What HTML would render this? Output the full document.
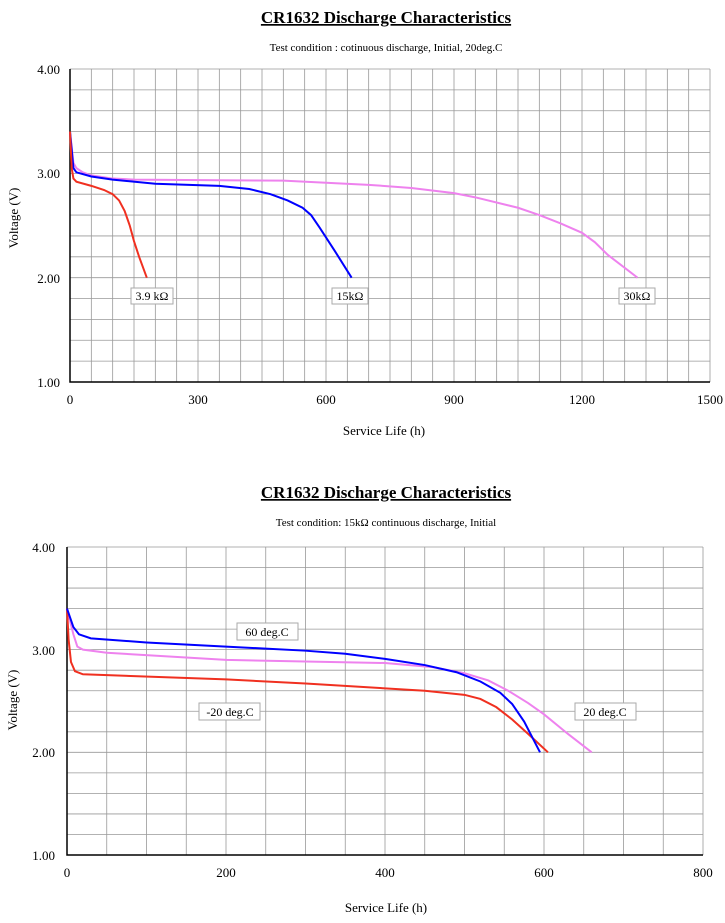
<!DOCTYPE html>
<html><head><meta charset="utf-8"><style>
body{margin:0;background:#fff;}
text{font-family:"Liberation Serif",serif;}
</style></head><body>
<svg width="725" height="918" xmlns="http://www.w3.org/2000/svg">
<rect width="725" height="918" fill="#fff"/>
<!-- Chart 1 -->
<text x="386" y="23" font-size="17" font-weight="bold" text-anchor="middle" text-decoration="underline">CR1632 Discharge Characteristics</text>
<text x="386" y="51" font-size="11" text-anchor="middle">Test condition : cotinuous discharge, Initial, 20deg.C</text>
<g transform="translate(70,382) scale(0.42667,-104.33) translate(0,-1)" fill="none">
<g stroke="#999" stroke-width="0.8">
<path vector-effect="non-scaling-stroke" d="M50 1V4M100 1V4M150 1V4M200 1V4M250 1V4M300 1V4M350 1V4M400 1V4M450 1V4M500 1V4M550 1V4M600 1V4M650 1V4M700 1V4M750 1V4M800 1V4M850 1V4M900 1V4M950 1V4M1000 1V4M1050 1V4M1100 1V4M1150 1V4M1200 1V4M1250 1V4M1300 1V4M1350 1V4M1400 1V4M1450 1V4M1500 1V4"/>
<path vector-effect="non-scaling-stroke" d="M0 1.2H1500M0 1.4H1500M0 1.6H1500M0 1.8H1500M0 2H1500M0 2.2H1500M0 2.4H1500M0 2.6H1500M0 2.8H1500M0 3H1500M0 3.2H1500M0 3.4H1500M0 3.6H1500M0 3.8H1500M0 4H1500"/>
</g>
<path vector-effect="non-scaling-stroke" stroke="#000" stroke-width="1.5" d="M0 4V1H1500"/>
<path vector-effect="non-scaling-stroke" stroke="#ee82ee" stroke-width="2" d="M0 3.4L8 3.1L15 3.05L30 3.01L50 2.98L100 2.95L150 2.94L500 2.93L700 2.89L800 2.86L900 2.81L950 2.77L1050 2.67L1100 2.6L1150 2.52L1200 2.43L1230 2.34L1260 2.22L1330 2.0"/>
<path vector-effect="non-scaling-stroke" stroke="#0000ff" stroke-width="2" d="M0 3.4L8 3.05L15 3.01L50 2.97L100 2.94L200 2.9L350 2.88L420 2.85L470 2.8L510 2.74L545 2.67L565 2.6L585 2.48L620 2.26L660 2.0"/>
<path vector-effect="non-scaling-stroke" stroke="#f03020" stroke-width="2" d="M0 3.4L4 3.05L8 2.95L15 2.92L50 2.88L80 2.84L100 2.8L115 2.74L128 2.64L140 2.5L150 2.35L162 2.2L180 2.0"/>
</g>
<g font-size="13" text-anchor="end"><text x="60" y="74">4.00</text><text x="60" y="178">3.00</text><text x="60" y="283">2.00</text><text x="60" y="387">1.00</text></g>
<g font-size="13" text-anchor="middle"><text x="70" y="404">0</text><text x="198" y="404">300</text><text x="326" y="404">600</text><text x="454" y="404">900</text><text x="582" y="404">1200</text><text x="710" y="404">1500</text></g>
<text x="384" y="435" font-size="13" text-anchor="middle">Service Life (h)</text>
<text transform="translate(18,218) rotate(-90)" font-size="13" text-anchor="middle">Voltage (V)</text>
<g font-size="12" text-anchor="middle">
<rect x="131" y="288" width="42" height="16" fill="#fff" stroke="#aaa"/><text x="152" y="300">3.9 kΩ</text>
<rect x="332" y="288" width="36" height="16" fill="#fff" stroke="#aaa"/><text x="350" y="300">15kΩ</text>
<rect x="619" y="288" width="36" height="16" fill="#fff" stroke="#aaa"/><text x="637" y="300">30kΩ</text>
</g>
<!-- Chart 2 -->
<text x="386" y="498" font-size="17" font-weight="bold" text-anchor="middle" text-decoration="underline">CR1632 Discharge Characteristics</text>
<text x="386" y="526" font-size="11" text-anchor="middle">Test condition: 15kΩ continuous discharge, Initial</text>
<g transform="translate(67,855) scale(0.795,-102.67) translate(0,-1)" fill="none">
<g stroke="#999" stroke-width="0.8">
<path vector-effect="non-scaling-stroke" d="M50 1V4M100 1V4M150 1V4M200 1V4M250 1V4M300 1V4M350 1V4M400 1V4M450 1V4M500 1V4M550 1V4M600 1V4M650 1V4M700 1V4M750 1V4M800 1V4"/>
<path vector-effect="non-scaling-stroke" d="M0 1.2H800M0 1.4H800M0 1.6H800M0 1.8H800M0 2H800M0 2.2H800M0 2.4H800M0 2.6H800M0 2.8H800M0 3H800M0 3.2H800M0 3.4H800M0 3.6H800M0 3.8H800M0 4H800"/>
</g>
<path vector-effect="non-scaling-stroke" stroke="#000" stroke-width="1.5" d="M0 4V1H800"/>
<path vector-effect="non-scaling-stroke" stroke="#ee82ee" stroke-width="2" d="M0 3.4L8 3.15L13 3.03L20 3.0L50 2.97L200 2.9L400 2.87L460 2.83L500 2.77L530 2.7L555 2.6L580 2.48L600 2.37L630 2.18L660 2.0"/>
<path vector-effect="non-scaling-stroke" stroke="#f03020" stroke-width="2" d="M0 3.4L2 3.1L5 2.88L10 2.79L20 2.76L200 2.71L300 2.67L450 2.6L500 2.56L520 2.52L540 2.44L560 2.32L580 2.18L605 2.0"/>
<path vector-effect="non-scaling-stroke" stroke="#0000ff" stroke-width="2" d="M0 3.4L8 3.22L15 3.15L30 3.11L100 3.07L200 3.03L300 2.99L350 2.96L400 2.91L450 2.85L490 2.78L520 2.69L545 2.58L560 2.47L575 2.3L585 2.15L595 2.0"/>
</g>
<g font-size="13" text-anchor="end"><text x="55" y="552">4.00</text><text x="55" y="655">3.00</text><text x="55" y="757">2.00</text><text x="55" y="860">1.00</text></g>
<g font-size="13" text-anchor="middle"><text x="67" y="877">0</text><text x="226" y="877">200</text><text x="385" y="877">400</text><text x="544" y="877">600</text><text x="703" y="877">800</text></g>
<text x="386" y="912" font-size="13" text-anchor="middle">Service Life (h)</text>
<text transform="translate(17,700) rotate(-90)" font-size="13" text-anchor="middle">Voltage (V)</text>
<g font-size="12" text-anchor="middle">
<rect x="237" y="623" width="61" height="17" fill="#fff" stroke="#aaa"/><text x="267" y="636">60 deg.C</text>
<rect x="199" y="703" width="61" height="17" fill="#fff" stroke="#aaa"/><text x="230" y="716">-20 deg.C</text>
<rect x="575" y="703" width="61" height="17" fill="#fff" stroke="#aaa"/><text x="605" y="716">20 deg.C</text>
</g>
</svg>
</body></html>
